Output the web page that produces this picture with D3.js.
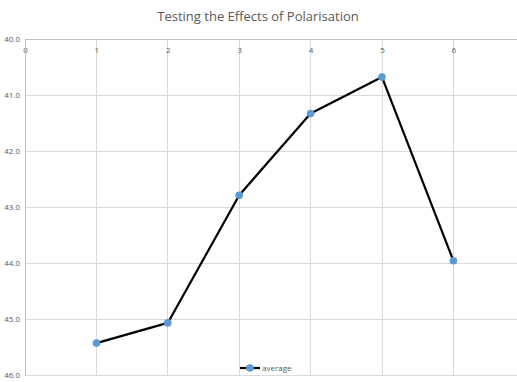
<!DOCTYPE html>
<html><head><meta charset="utf-8">
<script src="https://cdn.jsdelivr.net/npm/d3@7"></script>
<style>body{margin:0;background:#fff;}svg{display:block;}</style>
</head><body>
<script>
const xValues = [1, 2, 3, 4, 5, 6];
const averageValues = [45.43, 45.07, 42.79, 41.33, 40.68, 43.96];
const xTicks = [0, 1, 2, 3, 4, 5, 6];
const yTicks = [40, 41, 42, 43, 44, 45, 46];
const title = "Testing the Effects of Polarisation";
const seriesName = "average";

const W = 517, H = 382;
const svg = d3.select("body").append("svg").attr("width", W).attr("height", H);
const font = "'Open Sans', 'Liberation Sans', sans-serif";

const x = d3.scaleLinear().domain([0, 7]).range([25, 25 + 7 * 71.4]);
const y = d3.scaleLinear().domain([40, 46]).range([39, 375]);

// gridlines
svg.append("g").selectAll("line.h").data(yTicks.slice(1)).join("line")
  .attr("x1", x(0)).attr("x2", W).attr("y1", d => y(d)).attr("y2", d => y(d))
  .attr("stroke", "#d9d9d9").attr("stroke-width", 1).attr("shape-rendering", "crispEdges");
svg.append("g").selectAll("line.v").data(xTicks.slice(1)).join("line")
  .attr("x1", d => x(d)).attr("x2", d => x(d)).attr("y1", y(40)).attr("y2", y(46))
  .attr("stroke", "#d9d9d9").attr("stroke-width", 1).attr("shape-rendering", "crispEdges");

// axes (x at top, y on left)
const xAxis = d3.axisTop(x).tickValues(xTicks).tickSize(0).tickFormat(d3.format("d"));
const gx = svg.append("g").attr("transform", `translate(0,${y(40)})`).call(xAxis);
gx.select(".domain").attr("stroke", "#bfbfbf").attr("d", `M${x(0)},0H${W}`).attr("shape-rendering", "crispEdges");
gx.selectAll("text").attr("y", 14).attr("dy", 0).attr("fill", "#595959")
  .style("font-family", font).style("font-size", "8px");

const yAxis = d3.axisLeft(y).tickValues(yTicks).tickSize(0).tickFormat(d3.format(".1f"));
const gy = svg.append("g").attr("transform", `translate(${x(0)},0)`).call(yAxis);
gy.select(".domain").attr("stroke", "#bfbfbf").attr("shape-rendering", "crispEdges");
gy.selectAll("text").attr("x", -5).attr("dy", "0.32em").attr("fill", "#595959")
  .style("font-family", font).style("font-size", "8px");

// line
const line = d3.line().x((d, i) => x(xValues[i])).y(d => y(d));
svg.append("path").datum(averageValues).attr("d", line)
  .attr("fill", "none").attr("stroke", "#000").attr("stroke-width", 2.2).attr("stroke-linejoin", "round");
svg.append("g").selectAll("circle").data(averageValues).join("circle")
  .attr("cx", (d, i) => x(xValues[i])).attr("cy", d => y(d)).attr("r", 3.8).attr("fill", "#5b9bd5");

// title
svg.append("text").attr("x", 258).attr("y", 21).attr("text-anchor", "middle")
  .attr("fill", "#595959").style("font-family", font).style("font-size", "13px").text(title);

// legend
const lg = svg.append("g").attr("transform", "translate(240,368)");
lg.append("line").attr("x1", 0).attr("x2", 20).attr("y1", 0).attr("y2", 0).attr("stroke", "#000").attr("stroke-width", 2.2);
lg.append("circle").attr("cx", 10).attr("cy", 0).attr("r", 3.8).attr("fill", "#5b9bd5");
lg.append("text").attr("x", 22).attr("y", 0).attr("dy", "0.32em").attr("fill", "#595959")
  .style("font-family", font).style("font-size", "8px").text(seriesName);
</script>
</body></html>
